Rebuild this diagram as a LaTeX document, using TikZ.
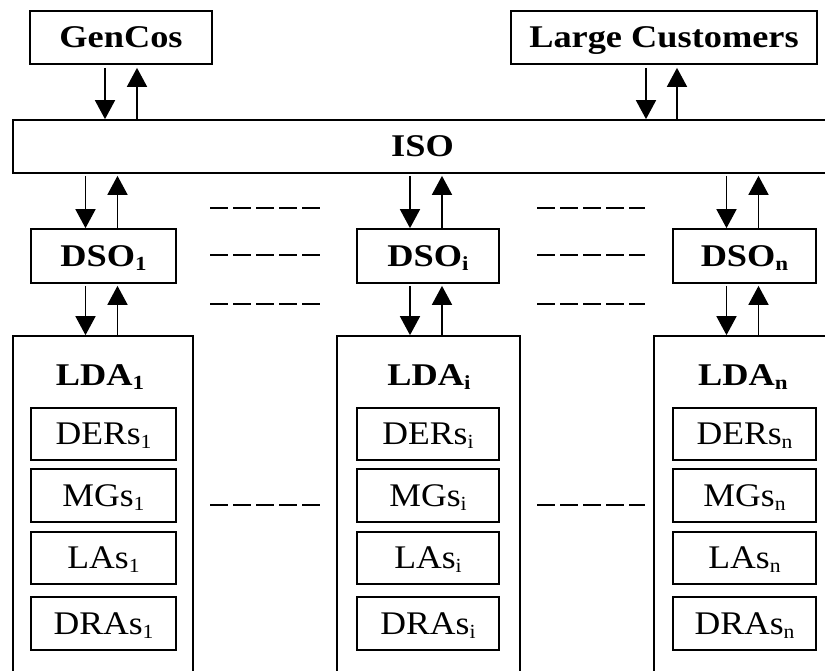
\documentclass[tikz,border=0pt]{standalone}
\usepackage{fontspec}
\setmainfont{Liberation Serif}[FakeStretch=1.08]
\newfontfamily\headfont{Liberation Serif}[FakeStretch=1.15]
\usetikzlibrary{arrows.meta,calc}
% lowered index used in all labels
\newcommand\ix[1]{\raisebox{-4pt}{\fontsize{20}{20}\selectfont #1}}

\begin{document}
\begin{tikzpicture}[x=1pt,y=-1pt,
  box/.style={draw, line width=1.7pt, inner sep=0pt, text height=21pt, text depth=0pt},
  head/.style={font=\headfont\bfseries\fontsize{31.6}{36}\selectfont},
  body/.style={font=\fontsize{33}{38}\selectfont},
  lbl/.style={inner sep=0pt, text height=21pt, text depth=0pt},
  flow/.style={line width=1.7pt, -{Triangle[length=19pt,width=20pt]}},
  gapline/.style={line width=1.5pt, dash pattern=on 18pt off 5pt}]

\useasboundingbox (0,0) rectangle (825,671);
\clip (0,0) rectangle (825,671);

% market participants and the ISO
\node[box, head, minimum width=182pt, minimum height=53pt] (gencos) at (121,37.5) {GenCos};
\node[box, head, minimum width=306pt, minimum height=53pt] (large) at (664,37.5) {Large Customers};
\node[box, head, minimum width=819pt, minimum height=53pt] (iso) at (422.5,146.5) {ISO};

% distribution system operators
\node[box, head, minimum width=145pt, minimum height=54pt] (dso1) at (103.5,256) {DSO\ix{1}};
\node[box, head, minimum width=142pt, minimum height=54pt] (dsoi) at (428,256) {DSO\ix{i}};
\node[box, head, minimum width=143pt, minimum height=54pt] (dson) at (744.5,256) {DSO\ix{n}};

% local distribution areas
\node[box, minimum width=180pt, minimum height=354pt] (lda1) at (103,513) {};
\node[box, minimum width=183pt, minimum height=354pt] (ldai) at (428.5,513) {};
\node[box, minimum width=186pt, minimum height=354pt] (ldan) at (747,513) {};
\node[lbl, head] (lda1lab) at (100,375) {LDA\ix{1}};
\node[lbl, head] (ldailab) at (429,375) {LDA\ix{i}};
\node[lbl, head] (ldanlab) at (743,375) {LDA\ix{n}};

% members of each area
\foreach \c/\x/\w in {1/103.5/145, i/428/142, n/744.5/143}{
  \node[box, body, minimum width=\w pt, minimum height=52pt] (ders\c) at (\x,434) {DERs\ix{\c}};
  \node[box, body, minimum width=\w pt, minimum height=53pt] (mgs\c) at (\x,495.5) {MGs\ix{\c}};
  \node[box, body, minimum width=\w pt, minimum height=52pt] (las\c) at (\x,558) {LAs\ix{\c}};
  \node[box, body, minimum width=\w pt, minimum height=53pt] (dras\c) at (\x,623.5) {DRAs\ix{\c}};
}

% exchanges with the ISO
\coordinate (g-dn) at ($(gencos.south)+(-16,0)$);
\coordinate (g-up) at ($(gencos.south)+(16,0)$);
\draw[flow, shorten <=3pt] (g-dn) -- (g-dn |- iso.north);
\draw[flow, shorten >=3pt] (g-up |- iso.north) -- (g-up);
\coordinate (l-dn) at ($(large.south)+(-18,0)$);
\coordinate (l-up) at ($(large.south)+(13,0)$);
\draw[flow, shorten <=3pt] (l-dn) -- (l-dn |- iso.north);
\draw[flow, shorten >=3pt] (l-up |- iso.north) -- (l-up);

\foreach \d/\l in {dso1/lda1, dsoi/ldai, dson/ldan}{
  \coordinate (\d-dn) at ($(\d.north)+(-18,0)$);
  \coordinate (\d-up) at ($(\d.north)+(14,0)$);
  \draw[flow, shorten <=2pt] (\d-dn |- iso.south) -- (\d-dn);
  \draw[flow, shorten >=2pt] (\d-up) -- (\d-up |- iso.south);
  \coordinate (\l-dn) at ($(\d.south)+(-18,0)$);
  \coordinate (\l-up) at ($(\d.south)+(14,0)$);
  \draw[flow, shorten <=2pt] (\l-dn) -- (\l-dn |- \l.north);
  \draw[flow, shorten >=2pt] (\l-up |- \l.north) -- (\l-up);
}

% ellipses between the columns
\foreach \y in {208,255,304,505}{
  \draw[gapline] (210,\y) -- (320,\y);
  \draw[gapline] (537,\y) -- (645,\y);
}
\end{tikzpicture}
\end{document}
